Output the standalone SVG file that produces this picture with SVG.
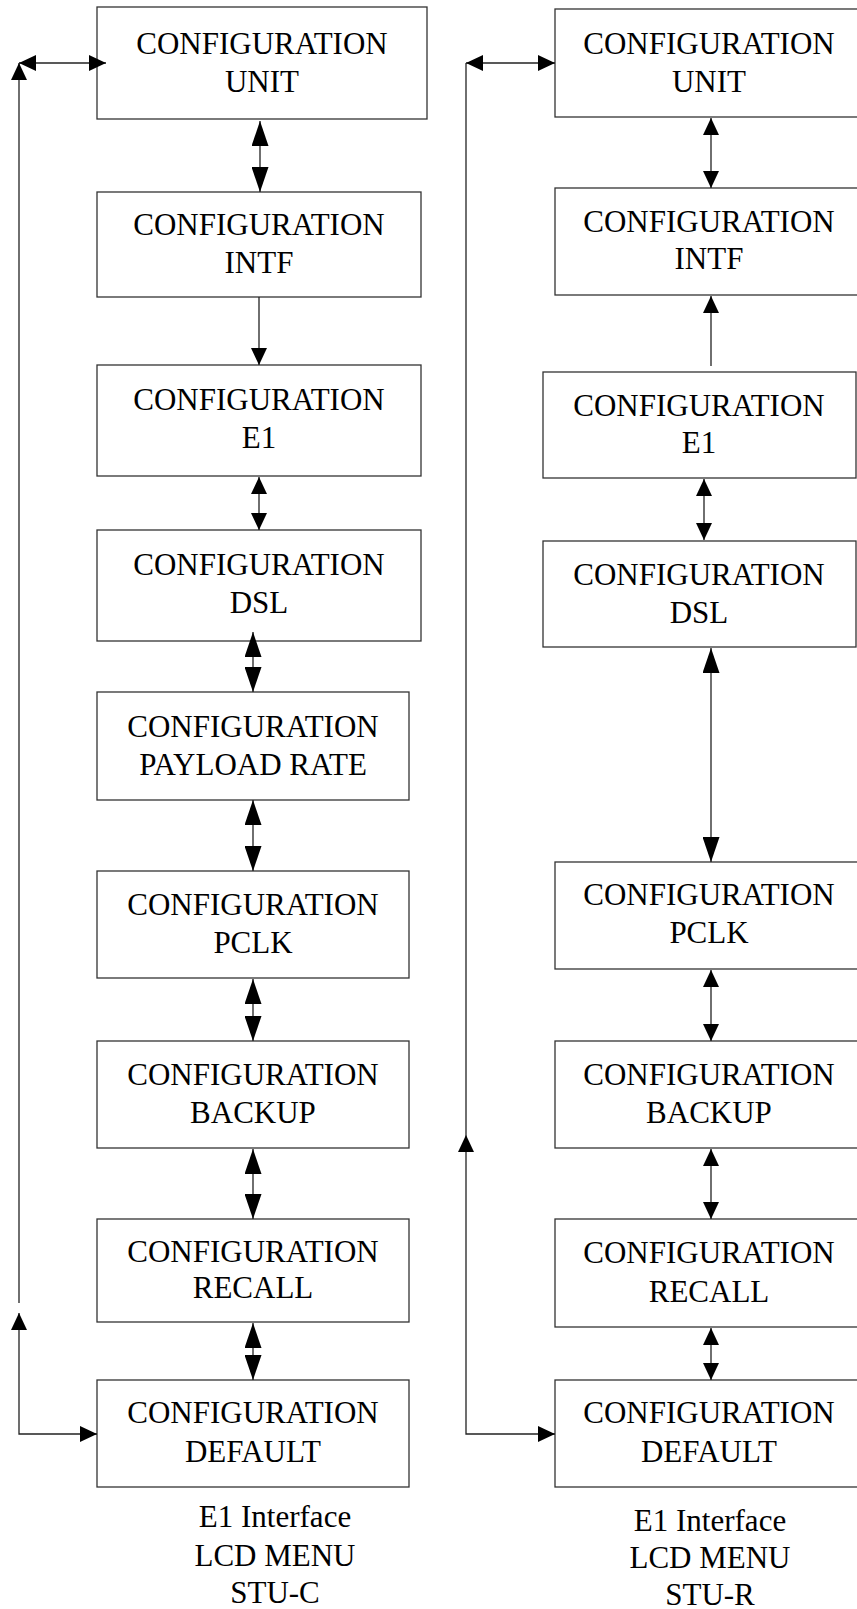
<svg xmlns="http://www.w3.org/2000/svg" width="857" height="1609" viewBox="0 0 857 1609">
<style>
.box{fill:#fff;stroke:#333;stroke-width:1.3}
.t{font-family:"Liberation Serif","Times New Roman",serif;font-size:31px;fill:#000;text-anchor:middle}
.c{fill:none;stroke:#222;stroke-width:1.3}
.s{marker-end:url(#ah)}
.ss{marker-start:url(#ah);marker-end:url(#ah)}
.ll{marker-start:url(#al);marker-end:url(#al)}
</style>
<defs>
<marker id="ah" viewBox="0 0 17 16" refX="17" refY="8" markerWidth="17" markerHeight="16" markerUnits="userSpaceOnUse" orient="auto-start-reverse"><path d="M0,0 L17,8 L0,16 z" fill="#000"/></marker>
<marker id="al" viewBox="0 0 25 17" refX="25" refY="8.5" markerWidth="25" markerHeight="17" markerUnits="userSpaceOnUse" orient="auto-start-reverse"><path d="M0,0 L25,8.5 L0,17 z" fill="#000"/></marker>
</defs>
<g id="l-unit"><rect class="box" x="97" y="7" width="330" height="112"/><text class="t" x="262" y="54">CONFIGURATION</text><text class="t" x="262" y="92">UNIT</text></g>
<g id="l-intf"><rect class="box" x="97" y="192" width="324" height="105"/><text class="t" x="259" y="235">CONFIGURATION</text><text class="t" x="259" y="273">INTF</text></g>
<g id="l-e1"><rect class="box" x="97" y="365" width="324" height="111"/><text class="t" x="259" y="410">CONFIGURATION</text><text class="t" x="259" y="448">E1</text></g>
<g id="l-dsl"><rect class="box" x="97" y="530" width="324" height="111"/><text class="t" x="259" y="575">CONFIGURATION</text><text class="t" x="259" y="613">DSL</text></g>
<g id="l-payload"><rect class="box" x="97" y="692" width="312" height="108"/><text class="t" x="253" y="737">CONFIGURATION</text><text class="t" x="253" y="775">PAYLOAD RATE</text></g>
<g id="l-pclk"><rect class="box" x="97" y="871" width="312" height="107"/><text class="t" x="253" y="915">CONFIGURATION</text><text class="t" x="253" y="953">PCLK</text></g>
<g id="l-backup"><rect class="box" x="97" y="1041" width="312" height="107"/><text class="t" x="253" y="1085">CONFIGURATION</text><text class="t" x="253" y="1123">BACKUP</text></g>
<g id="l-recall"><rect class="box" x="97" y="1219" width="312" height="103"/><text class="t" x="253" y="1262">CONFIGURATION</text><text class="t" x="253" y="1298">RECALL</text></g>
<g id="l-default"><rect class="box" x="97" y="1380" width="312" height="107"/><text class="t" x="253" y="1423">CONFIGURATION</text><text class="t" x="253" y="1462">DEFAULT</text></g>
<g id="l-caption"><text class="t" x="275" y="1527">E1 Interface</text><text class="t" x="275" y="1566">LCD MENU</text><text class="t" x="275" y="1603">STU-C</text></g>
<g id="r-unit"><rect class="box" x="555" y="9" width="310" height="108"/><text class="t" x="709" y="54">CONFIGURATION</text><text class="t" x="709" y="92">UNIT</text></g>
<g id="r-intf"><rect class="box" x="555" y="188" width="310" height="107"/><text class="t" x="709" y="232">CONFIGURATION</text><text class="t" x="709" y="269">INTF</text></g>
<g id="r-e1"><rect class="box" x="543" y="372" width="313" height="106"/><text class="t" x="699" y="416">CONFIGURATION</text><text class="t" x="699" y="453">E1</text></g>
<g id="r-dsl"><rect class="box" x="543" y="541" width="313" height="106"/><text class="t" x="699" y="585">CONFIGURATION</text><text class="t" x="699" y="623">DSL</text></g>
<g id="r-pclk"><rect class="box" x="555" y="862" width="310" height="107"/><text class="t" x="709" y="905">CONFIGURATION</text><text class="t" x="709" y="943">PCLK</text></g>
<g id="r-backup"><rect class="box" x="555" y="1041" width="310" height="107"/><text class="t" x="709" y="1085">CONFIGURATION</text><text class="t" x="709" y="1123">BACKUP</text></g>
<g id="r-recall"><rect class="box" x="555" y="1219" width="310" height="108"/><text class="t" x="709" y="1263">CONFIGURATION</text><text class="t" x="709" y="1302">RECALL</text></g>
<g id="r-default"><rect class="box" x="555" y="1380" width="310" height="107"/><text class="t" x="709" y="1423">CONFIGURATION</text><text class="t" x="709" y="1462">DEFAULT</text></g>
<g id="r-caption"><text class="t" x="710" y="1531">E1 Interface</text><text class="t" x="710" y="1568">LCD MENU</text><text class="t" x="710" y="1605">STU-R</text></g>
<g id="connectors">
<path class="c s" d="M19,1303 V63"/>
<path class="c ss" d="M19,63 H106"/>
<path class="c ss" d="M19,1313 V1434 H97"/>
<path class="c ll" d="M260,121 V192"/>
<path class="c s" d="M259,297 V365"/>
<path class="c ss" d="M259,477 V530"/>
<path class="c ll" d="M253,632 V692"/>
<path class="c ll" d="M253,800 V871"/>
<path class="c ll" d="M253,979 V1041"/>
<path class="c ll" d="M253,1149 V1219"/>
<path class="c ll" d="M253,1323 V1380"/>
<path class="c" d="M466,63 V1135"/>
<path class="c ss" d="M466,63 H555"/>
<path class="c ss" d="M466,1135 V1434 H555"/>
<path class="c ss" d="M711,118 V188"/>
<path class="c s" d="M711,366 V296"/>
<path class="c ss" d="M704,479 V540"/>
<path class="c ll" d="M711,648 V862"/>
<path class="c ss" d="M711,970 V1041"/>
<path class="c ss" d="M711,1149 V1219"/>
<path class="c ss" d="M711,1328 V1380"/>
</g>
</svg>
